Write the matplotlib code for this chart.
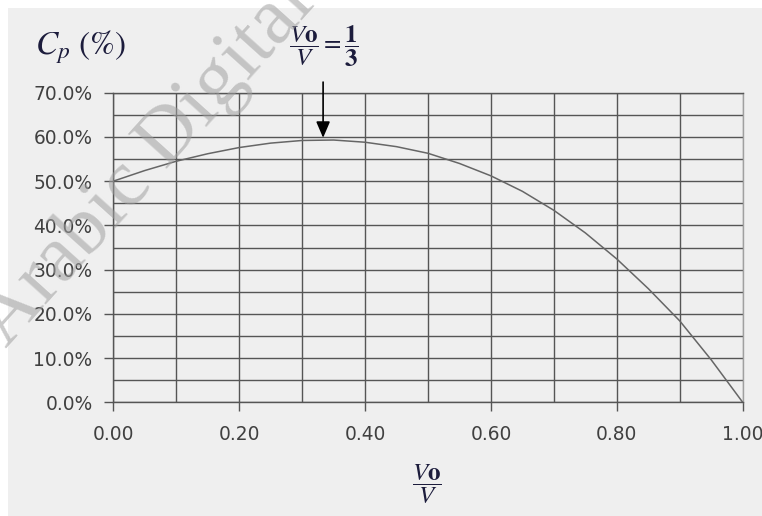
import numpy as np
import matplotlib
matplotlib.use('Agg')
import matplotlib.pyplot as plt
from matplotlib.ticker import FuncFormatter
from matplotlib.patches import Rectangle

# Power coefficient curve (speed ratio Vo/V vs Cp %)
ratio = [0.00, 0.05, 0.10, 0.15, 0.20, 0.25, 0.30, 0.35, 0.40, 0.45, 0.50,
         0.55, 0.60, 0.65, 0.70, 0.75, 0.80, 0.85, 0.90, 0.95, 1.00]
cp_pct = [50.0, 52.4, 54.5, 56.2, 57.6, 58.6, 59.2, 59.3, 58.8, 57.8, 56.3,
          54.0, 51.2, 47.7, 43.4, 38.3, 32.4, 25.7, 18.4, 9.6, 0.0]

x_major = [0.0, 0.2, 0.4, 0.6, 0.8, 1.0]
x_minor = [0.1, 0.3, 0.5, 0.7, 0.9]
y_major = [0, 10, 20, 30, 40, 50, 60, 70]
y_minor = [5, 15, 25, 35, 45, 55, 65]

peak_x = 1 / 3

bg = '#efefef'
grid_c = '#555555'
label_c = '#404040'

plt.rcParams['mathtext.fontset'] = 'stix'

W, H = 762, 516
fig = plt.figure(figsize=(W / 100, H / 100), dpi=100, facecolor='white')
# grey panel with thin white strip on top and left
fig.patches.append(Rectangle((8 / W, 0), 1, 1 - 8 / H, transform=fig.transFigure,
                             facecolor=bg, edgecolor='none', zorder=-5))

ax = fig.add_axes([113.3 / W, 1 - 402.3 / H, (742.7 - 113.3) / W, (402.3 - 92.7) / H])
ax.set_facecolor('none')
ax.set_xlim(0, 1)
ax.set_ylim(0, 70)

ax.set_xticks(x_major)
ax.set_xticks(x_minor, minor=True)
ax.set_yticks(y_major)
ax.set_yticks(y_minor, minor=True)
ax.xaxis.set_major_formatter(FuncFormatter(lambda v, p: '%.2f' % v))
ax.yaxis.set_major_formatter(FuncFormatter(lambda v, p: '%.1f%%' % v))

ax.grid(True, which='both', color=grid_c, lw=1.0)
ax.set_axisbelow(True)
ax.tick_params(which='major', length=6.5, width=1.0, color=grid_c,
               labelsize=13.4, labelcolor=label_c)
ax.tick_params(axis='y', which='major', pad=8.4)
ax.tick_params(axis='x', which='major', pad=9.5)
ax.tick_params(which='minor', length=0)
for lab in ax.get_xticklabels() + ax.get_yticklabels():
    lab.set_family('DejaVu Sans')

for s in ['left', 'bottom', 'top']:
    ax.spines[s].set_color(grid_c)
    ax.spines[s].set_linewidth(1.0)
ax.spines['right'].set_color('#a0a0a0')
ax.spines['right'].set_linewidth(1.0)
ax.get_xgridlines()[-1].set_color('#a0a0a0')

ax.plot(ratio, cp_pct, color='#666666', lw=1.1, zorder=3)

# arrow marking the maximum at Vo/V = 1/3
ax.annotate('', xy=(peak_x, 59.8), xytext=(peak_x, 72.4),
            arrowprops=dict(arrowstyle='-|>,head_length=0.7,head_width=0.3',
                            color='black', lw=1.2, shrinkA=0, shrinkB=0,
                            mutation_scale=14),
            annotation_clip=False, zorder=5)

txt_c = '#1c1c3c'
fig.text(35 / W, 1 - 47 / H, r'$C_p\ (\%)$', fontsize=24, color=txt_c,
         ha='left', va='center')
fig.text(324 / W, 1 - 46 / H, r'$\dfrac{V\mathbf{o}}{V} = \dfrac{\mathbf{1}}{\mathbf{3}}$',
         fontsize=18, color=txt_c, ha='center', va='center')
fig.text(427 / W, 1 - 484 / H, r'$\dfrac{V\mathbf{o}}{V}$',
         fontsize=18, color=txt_c, ha='center', va='center')

# diagonal watermark
fig.text(234 / W, 1 - 66 / H, 'Arabic Digital Library', rotation=48,
         rotation_mode='anchor', ha='center', va='center', fontsize=58,
         family='Liberation Serif', color='#a0a0a0', alpha=0.55, zorder=10)

fig.savefig('out.png', dpi=100, facecolor='white')
